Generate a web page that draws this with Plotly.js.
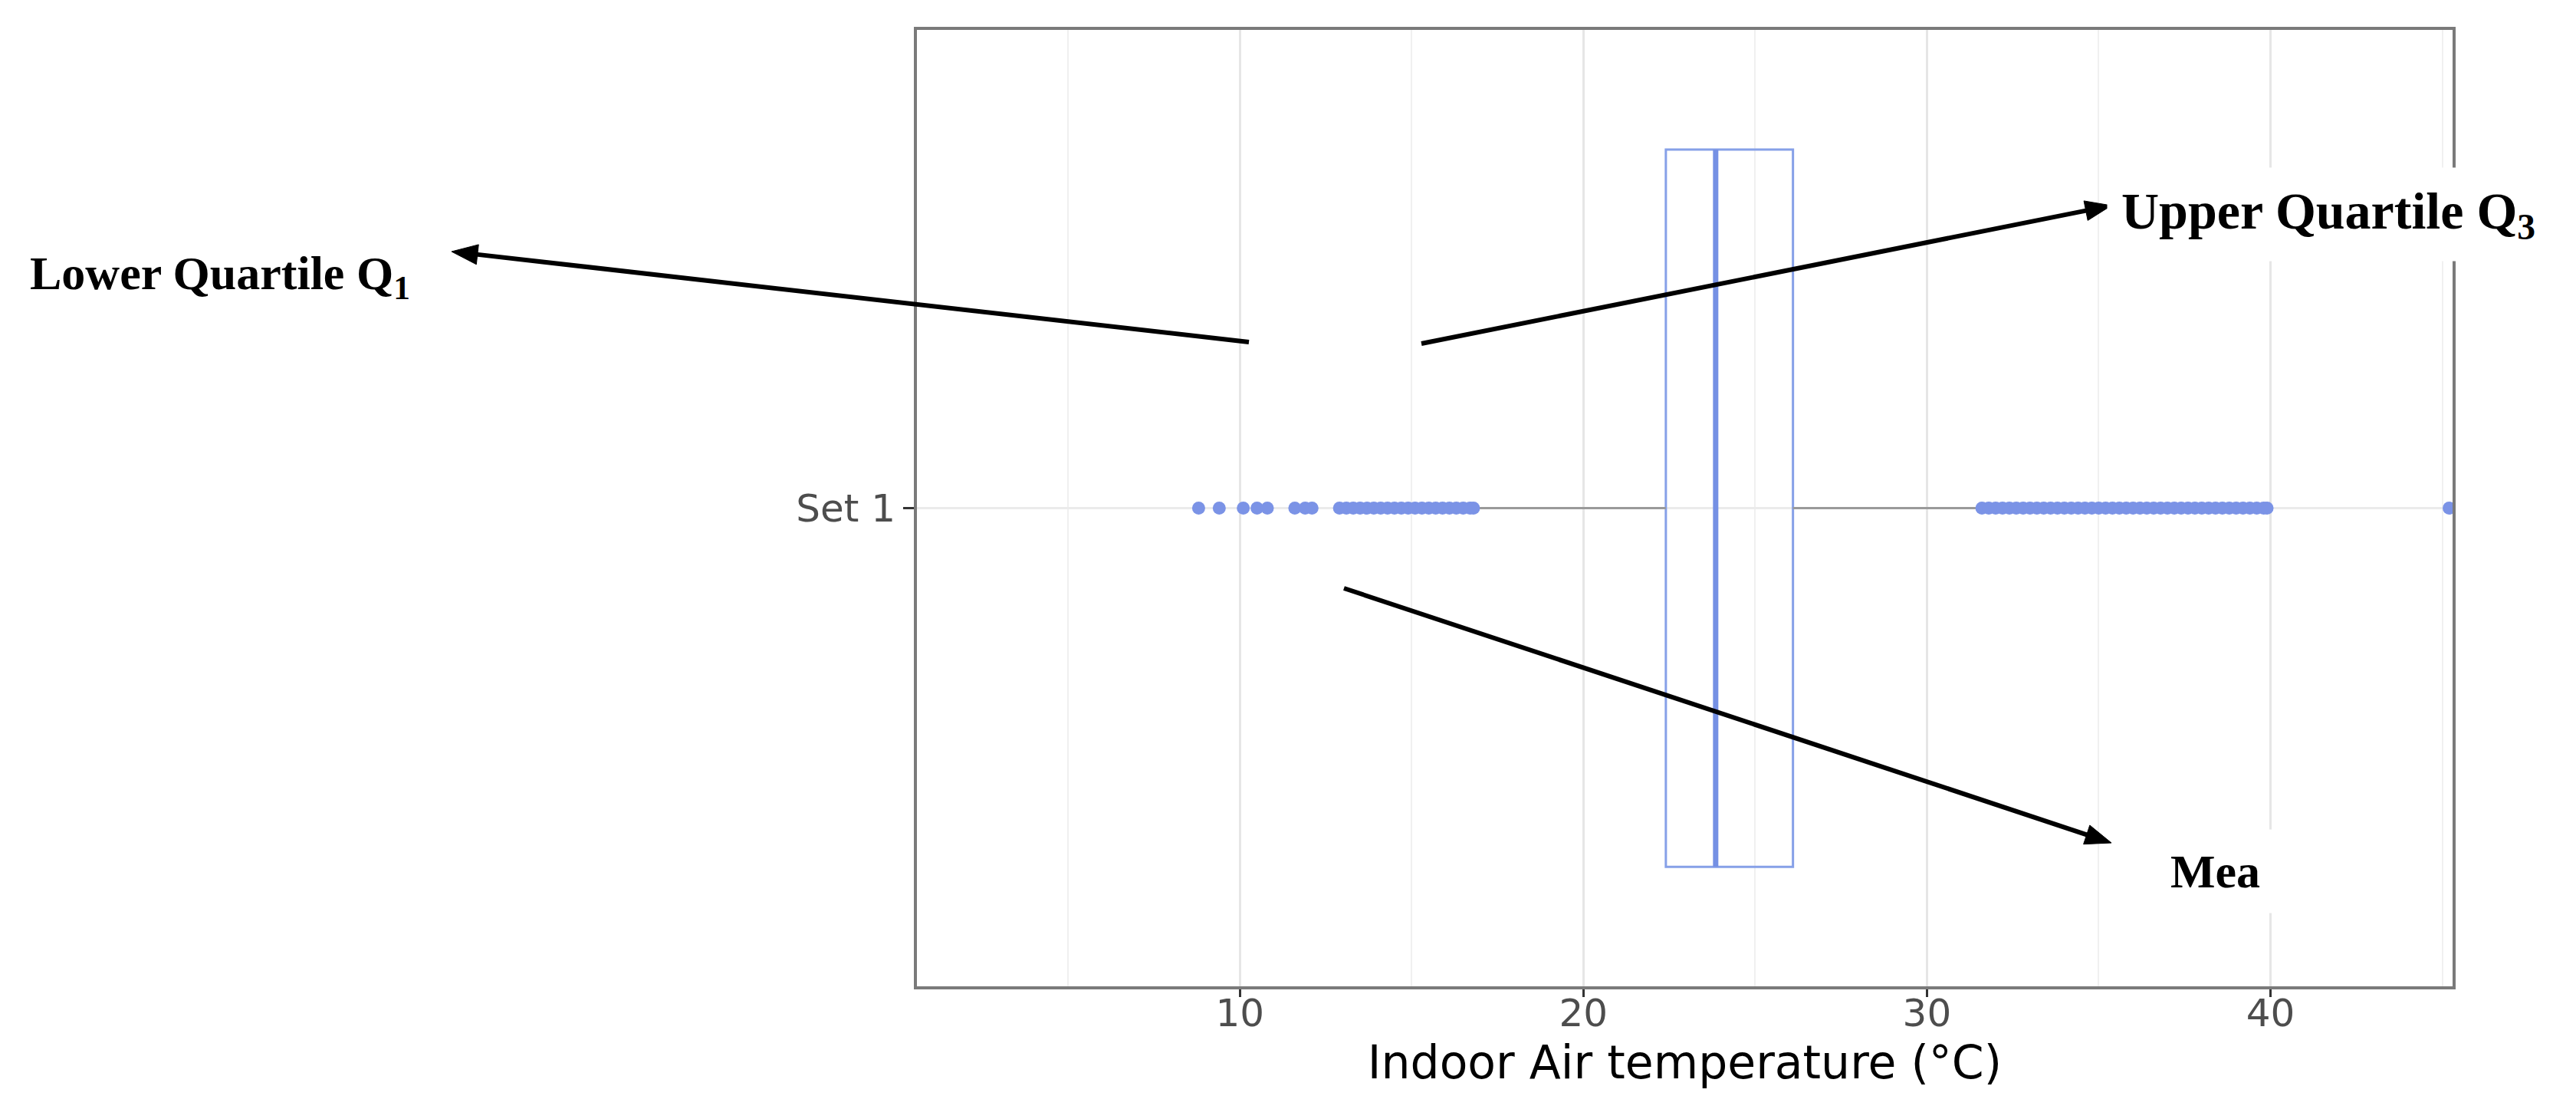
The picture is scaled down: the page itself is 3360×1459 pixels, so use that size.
<!DOCTYPE html>
<html>
<head>
<meta charset="utf-8">
<script src="https://cdn.plot.ly/plotly-3.0.1.min.js"></script>
<style>
  html, body { margin: 0; padding: 0; background: #ffffff; }
  #chart { width: 3360px; height: 1459px; }
</style>
</head>
<body>
<div id="chart"></div>
<script>
// ---- data ----
const categories = ['Set 1'];
const q1 = [22.4];
const median = [23.85];
const q3 = [26.1];
const lowerWhisker = [16.9];
const upperWhisker = [31.5];
const lowOutliers = [8.8, 9.4, 10.1, 10.5, 10.8, 11.6, 11.9, 12.1,
  12.9, 13.1, 13.3, 13.5, 13.7, 13.9, 14.1, 14.3, 14.5, 14.7, 14.9,
  15.1, 15.3, 15.5, 15.7, 15.9, 16.1, 16.3, 16.5, 16.7, 16.8];
const highOutliers = [31.6, 31.8, 32.0, 32.2, 32.4, 32.6, 32.8, 33.0,
  33.2, 33.4, 33.6, 33.8, 34.0, 34.2, 34.4, 34.6, 34.8, 35.0, 35.2,
  35.4, 35.6, 35.8, 36.0, 36.2, 36.4, 36.6, 36.8, 37.0, 37.2, 37.4,
  37.6, 37.8, 38.0, 38.2, 38.4, 38.6, 38.8, 39.0, 39.2, 39.4, 39.6,
  39.8, 39.9, 45.2];
const xTickVals = [10, 20, 30, 40];
const xTickText = ['10', '20', '30', '40'];
const xTitle = 'Indoor Air temperature (°C)';
const labelLower = 'Lower Quartile Q<sub>1</sub>';
const labelUpper = 'Upper Quartile Q<sub>3</sub>';
const labelMean = 'Mea';

// ---- styles ----
const BOX_WIDTH = 0.75;
const boxColor = '#86a0e8';
const dotColor = '#7b93e6';
const serif = 'Liberation Serif, Times New Roman, serif';
const sans = 'DejaVu Sans, Liberation Sans, Arial, sans-serif';

const cat = categories[0];
const allOut = lowOutliers.concat(highOutliers);

const traces = [
  {
    type: 'box',
    orientation: 'h',
    y: categories,
    q1: q1,
    median: median,
    q3: q3,
    lowerfence: q1,
    upperfence: q3,
    width: BOX_WIDTH,
    whiskerwidth: 0,
    boxpoints: false,
    fillcolor: 'rgba(255,255,255,0)',
    line: { color: boxColor, width: 3 },
    hoverinfo: 'skip',
    showlegend: false
  },
  {
    type: 'scatter',
    mode: 'lines',
    x: [lowerWhisker[0], q1[0], null, q3[0], upperWhisker[0]],
    y: [cat, cat, null, cat, cat],
    line: { color: '#9a9a9a', width: 3 },
    hoverinfo: 'skip',
    showlegend: false
  },
  {
    type: 'scatter',
    mode: 'markers',
    x: allOut,
    y: allOut.map(() => cat),
    marker: { color: dotColor, size: 17 },
    cliponaxis: true,
    hoverinfo: 'skip',
    showlegend: false
  }
];

// plot-area geometry in pixels, for annotations
const L = 1196, R = 3199, T = 39, B = 1286;
const px = v => (v - L) / (R - L);
const py = v => (B - v) / (B - T);

// arrow drawn as a line shape plus a filled triangular head
function arrowShapes(hx, hy, tx, ty) {
  const dx = hx - tx, dy = hy - ty;
  const len = Math.hypot(dx, dy);
  const ux = dx / len, uy = dy / len;
  const HL = 34, HW = 13;
  const bx = hx - ux * HL, by = hy - uy * HL;
  const nx = -uy, ny = ux;
  const p1 = [bx + nx * HW, by + ny * HW];
  const p2 = [bx - nx * HW, by - ny * HW];
  return [
    {
      type: 'line', xref: 'paper', yref: 'paper', layer: 'above',
      x0: px(tx), y0: py(ty), x1: px(bx + ux * 4), y1: py(by + uy * 4),
      line: { color: '#000000', width: 6 }
    },
    {
      type: 'path', xref: 'paper', yref: 'paper', layer: 'above',
      path: 'M ' + px(hx) + ' ' + py(hy) +
            ' L ' + px(p1[0]) + ' ' + py(p1[1]) +
            ' L ' + px(p2[0]) + ' ' + py(p2[1]) + ' Z',
      fillcolor: '#000000',
      line: { color: '#000000', width: 1 }
    }
  ];
}

const annotations = [
  {
    xref: 'paper', yref: 'paper', x: px(37), y: py(360),
    xanchor: 'left', yanchor: 'middle', showarrow: false,
    text: labelLower,
    font: { family: serif, size: 62, color: '#000000', weight: 'bold' }
  },
  {
    xref: 'paper', yref: 'paper', x: px(2748), y: py(279),
    xanchor: 'left', yanchor: 'middle', showarrow: false,
    text: labelUpper, bgcolor: '#ffffff', borderpad: 18,
    font: { family: serif, size: 68, color: '#000000', weight: 'bold' }
  },
  {
    xref: 'paper', yref: 'paper', x: px(2810), y: py(1136),
    xanchor: 'left', yanchor: 'middle', showarrow: false,
    text: labelMean, bgcolor: '#ffffff', borderpad: 20,
    font: { family: serif, size: 62, color: '#000000', weight: 'bold' }
  }
];

const shapes = [
  {
    type: 'line', xref: 'x', yref: 'y', layer: 'above',
    x0: median[0], x1: median[0],
    y0: -BOX_WIDTH / 2, y1: BOX_WIDTH / 2,
    line: { color: '#7590e4', width: 7 }
  }
].concat(
  arrowShapes(589, 328, 1629, 446),
  arrowShapes(2754, 268, 1854, 448),
  arrowShapes(2754, 1099, 1753, 767)
);

const layout = {
  width: 3360, height: 1459,
  margin: { l: L, r: 3360 - R, t: T, b: 1459 - B, pad: 0 },
  paper_bgcolor: '#ffffff',
  plot_bgcolor: '#ffffff',
  showlegend: false,
  xaxis: {
    range: [0.6, 45.3],
    tickvals: xTickVals,
    ticktext: xTickText,
    ticks: 'outside', ticklen: 10, tickwidth: 3, tickcolor: '#333333',
    ticklabelstandoff: -22,
    showgrid: true, gridcolor: '#e6e6e6', gridwidth: 3,
    minor: { dtick: 5, tick0: 0, showgrid: true, gridcolor: '#f0f0f0', gridwidth: 2, ticks: '' },
    showline: true, mirror: true, linecolor: '#7a7a7a', linewidth: 4,
    zeroline: false,
    tickfont: { family: sans, size: 50, color: '#4d4d4d' },
    title: { text: xTitle, standoff: 0, font: { family: sans, size: 60, color: '#000000' } }
  },
  yaxis: {
    type: 'category',
    range: [-0.5, 0.5],
    ticks: 'outside', ticklen: 14, tickwidth: 3, tickcolor: '#333333',
    showgrid: true, gridcolor: '#ebebeb', gridwidth: 3,
    showline: true, mirror: true, linecolor: '#7a7a7a', linewidth: 4,
    zeroline: false,
    tickfont: { family: sans, size: 50, color: '#4d4d4d' }
  },
  annotations: annotations,
  shapes: shapes
};

Plotly.newPlot('chart', traces, layout, { displayModeBar: false, staticPlot: true });
</script>
</body>
</html>
